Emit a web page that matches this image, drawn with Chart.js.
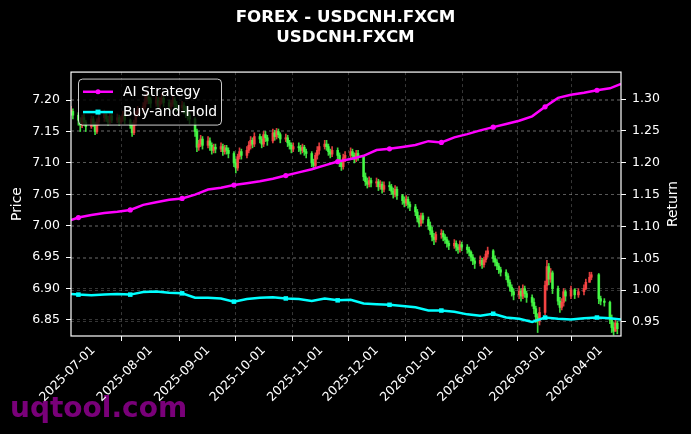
<!DOCTYPE html>
<html>
<head>
<meta charset="utf-8">
<title>FOREX - USDCNH.FXCM</title>
<script src="https://cdn.jsdelivr.net/npm/chart.js@4.4.1/dist/chart.umd.min.js"></script>
<style>
  html, body { margin: 0; padding: 0; background: #000; }
  #wrap { width: 691px; height: 434px; }
</style>
</head>
<body>
<div id="wrap"><canvas id="chart" width="691" height="434"></canvas></div>
<script>
// day 0 of the x axis, axis runs to endDay
const startDate = '2025-06-19';
const endDay = 297;

const tickLabels = ['2025-07-01', '2025-08-01', '2025-09-01', '2025-10-01', '2025-11-01',
  '2025-12-01', '2026-01-01', '2026-02-01', '2026-03-01', '2026-04-01'];

// daily USDCNH candles, one value per weekday (null = no bar that day)
const closes = [
  7.182, 7.176,
  7.168, 7.160, 7.172, 7.165, 7.158,
  7.170, 7.162, 7.150, 7.165, 7.172,
  7.178, 7.170, 7.165, 7.175, 7.168,
  7.172, 7.165, 7.170, 7.176, 7.168,
  7.160, 7.148, 7.165, 7.178, 7.185,
  7.190, 7.198, 7.205, 7.200, 7.195,
  7.200, 7.192, 7.198, 7.203, 7.196,
  7.190, 7.195, 7.200, 7.193, 7.188,
  7.192, 7.185, 7.180, 7.176, 7.170,
  7.150, 7.125, 7.130, 7.138, 7.128,
  7.135, 7.128, 7.120, 7.125, 7.122,
  7.126, 7.118, 7.124, 7.120, 7.115,
  7.100, 7.092, 7.110, 7.118, 7.112,
  7.120, 7.128, 7.136, 7.130, 7.142,
  7.138, 7.130, 7.145, 7.140, 7.135,
  7.148, 7.142, 7.150, 7.145, 7.138,
  7.140, 7.132, 7.128, 7.122, 7.126,
  7.124, 7.120, 7.125, 7.118, 7.115,
  7.100, 7.096, 7.112, 7.120, 7.126,
  7.130, 7.126, 7.118, 7.114, 7.120,
  7.112, 7.100, 7.094, 7.108, 7.112,
  7.118, 7.112, 7.106, 7.115, 7.110,
  7.078, 7.070, 7.066, 7.072, 7.068,
  7.070, 7.062, 7.066, 7.058, 7.064,
  7.062, 7.055, 7.050, 7.058, 7.048,
  7.040, 7.036, 7.042, 7.034, 7.030,
  7.022, 7.012, 7.004, 7.016, 7.010,
  7.000, 6.992, 6.982, 6.978, 6.986,
  6.988, 6.982, 6.978, 6.972, 6.968,
  6.972, 6.966, 6.962, 6.970, 6.966,
  6.962, 6.958, 6.950, 6.944, 6.940,
  6.945, 6.938, 6.946, 6.955, 6.960,
  6.948, 6.942, 6.936, 6.930, 6.926,
  6.920, 6.910, 6.902, 6.895, 6.890,
  6.896, 6.888, 6.900, 6.892, 6.886,
  6.878, 6.868, 6.855, 6.848, 6.862,
  6.905, 6.935, 6.915, 6.925, 6.900,
  6.880, 6.870, 6.878, 6.895, 6.888,
  6.898, null, 6.890, null, 6.895,
  6.900, 6.910, null, 6.918, 6.922,
  null, 6.884, 6.880, null, 6.878,
  6.850, 6.838, 6.832, 6.845, 6.836
];
const highs = [
  7.190, 7.186,
  7.180, 7.172, 7.176, 7.178, 7.168,
  7.175, 7.174, 7.165, 7.170, 7.178,
  7.184, 7.182, 7.174, 7.180, 7.180,
  7.178, 7.176, 7.174, 7.182, 7.180,
  7.170, 7.164, 7.168, 7.182, 7.190,
  7.196, 7.206, 7.212, 7.210, 7.204,
  7.206, 7.204, 7.204, 7.210, 7.206,
  7.200, 7.200, 7.206, 7.204, 7.198,
  7.198, 7.196, 7.190, 7.184, 7.180,
  7.172, 7.154, 7.136, 7.144, 7.142,
  7.142, 7.140, 7.132, 7.130, 7.130,
  7.132, 7.130, 7.128, 7.128, 7.124,
  7.118, 7.106, 7.114, 7.124, 7.122,
  7.126, 7.134, 7.142, 7.140, 7.148,
  7.146, 7.142, 7.150, 7.150, 7.144,
  7.154, 7.152, 7.155, 7.154, 7.148,
  7.146, 7.144, 7.136, 7.132, 7.132,
  7.132, 7.128, 7.130, 7.128, 7.122,
  7.118, 7.106, 7.116, 7.126, 7.132,
  7.136, 7.136, 7.130, 7.122, 7.126,
  7.124, 7.116, 7.104, 7.114, 7.118,
  7.124, 7.122, 7.116, 7.120, 7.120,
  7.112, 7.084, 7.076, 7.078, 7.076,
  7.076, 7.074, 7.072, 7.070, 7.070,
  7.070, 7.066, 7.060, 7.064, 7.062,
  7.050, 7.046, 7.048, 7.046, 7.038,
  7.034, 7.026, 7.016, 7.020, 7.020,
  7.014, 7.006, 6.998, 6.988, 6.990,
  6.994, 6.992, 6.986, 6.982, 6.976,
  6.978, 6.976, 6.970, 6.976, 6.974,
  6.970, 6.966, 6.960, 6.954, 6.948,
  6.952, 6.948, 6.950, 6.960, 6.966,
  6.962, 6.952, 6.946, 6.940, 6.934,
  6.930, 6.924, 6.914, 6.906, 6.900,
  6.904, 6.900, 6.906, 6.904, 6.896,
  6.890, 6.884, 6.872, 6.860, 6.870,
  6.912, 6.945, 6.940, 6.932, 6.928,
  6.904, 6.886, 6.884, 6.900, 6.898,
  6.904, null, 6.900, null, 6.900,
  6.906, 6.915, null, 6.926, 6.926,
  null, 6.924, 6.888, null, 6.884,
  6.880, 6.858, 6.846, 6.852, 6.848
];
const lows = [
  7.176, 7.170,
  7.160, 7.150, 7.156, 7.160, 7.150,
  7.155, 7.158, 7.145, 7.147, 7.160,
  7.166, 7.166, 7.160, 7.162, 7.164,
  7.164, 7.160, 7.162, 7.166, 7.162,
  7.155, 7.142, 7.145, 7.160, 7.174,
  7.180, 7.186, 7.194, 7.194, 7.188,
  7.190, 7.186, 7.188, 7.194, 7.190,
  7.184, 7.186, 7.190, 7.186, 7.182,
  7.184, 7.178, 7.172, 7.168, 7.162,
  7.142, 7.118, 7.120, 7.126, 7.122,
  7.124, 7.120, 7.114, 7.116, 7.116,
  7.118, 7.112, 7.114, 7.114, 7.108,
  7.094, 7.084, 7.088, 7.106, 7.106,
  7.108, 7.116, 7.122, 7.124, 7.126,
  7.132, 7.124, 7.126, 7.134, 7.128,
  7.132, 7.136, 7.138, 7.140, 7.132,
  7.134, 7.126, 7.122, 7.116, 7.118,
  7.118, 7.114, 7.116, 7.112, 7.108,
  7.094, 7.090, 7.092, 7.106, 7.114,
  7.122, 7.120, 7.112, 7.108, 7.110,
  7.106, 7.094, 7.088, 7.090, 7.102,
  7.108, 7.106, 7.100, 7.102, 7.104,
  7.072, 7.064, 7.060, 7.062, 7.062,
  7.062, 7.056, 7.058, 7.052, 7.054,
  7.056, 7.050, 7.044, 7.046, 7.042,
  7.034, 7.030, 7.032, 7.028, 7.024,
  7.016, 7.006, 6.998, 7.000, 7.004,
  6.994, 6.986, 6.976, 6.970, 6.974,
  6.980, 6.976, 6.972, 6.966, 6.962,
  6.964, 6.960, 6.956, 6.958, 6.960,
  6.956, 6.952, 6.944, 6.938, 6.932,
  6.936, 6.932, 6.934, 6.942, 6.950,
  6.942, 6.936, 6.930, 6.924, 6.920,
  6.914, 6.904, 6.896, 6.888, 6.882,
  6.884, 6.880, 6.884, 6.886, 6.878,
  6.872, 6.860, 6.846, 6.830, 6.842,
  6.858, 6.898, 6.906, 6.910, 6.892,
  6.874, 6.862, 6.866, 6.872, 6.880,
  6.884, null, 6.884, null, 6.886,
  6.890, 6.898, null, 6.910, 6.914,
  null, 6.876, 6.874, null, 6.872,
  6.844, 6.830, 6.826, 6.834, 6.828
];

// equity curves, sampled weekly (day offsets from startDate)
const lineDays = [0, 4, 11, 18, 25, 32, 39, 46, 53, 60, 67, 74, 81, 88, 95, 102, 109, 116,
  123, 130, 137, 144, 151, 158, 165, 172, 179, 186, 193, 200, 207, 214, 221, 228, 235,
  242, 249, 256, 263, 270, 277, 284, 291, 297];
const aiStrategy = [1.110, 1.114, 1.118, 1.121, 1.123, 1.126, 1.134, 1.138, 1.142, 1.144,
  1.150, 1.158, 1.161, 1.165, 1.168, 1.171, 1.175, 1.180, 1.185, 1.190, 1.196, 1.202,
  1.206, 1.211, 1.220, 1.222, 1.225, 1.228, 1.234, 1.232, 1.240, 1.245, 1.251, 1.256,
  1.261, 1.266, 1.273, 1.288, 1.302, 1.307, 1.310, 1.314, 1.317, 1.324];
const buyAndHold = [0.994, 0.993, 0.992, 0.993, 0.994, 0.993, 0.997, 0.998, 0.996, 0.995,
  0.988, 0.988, 0.987, 0.982, 0.986, 0.988, 0.989, 0.987, 0.986, 0.983, 0.987, 0.984,
  0.985, 0.979, 0.978, 0.977, 0.975, 0.973, 0.968, 0.968, 0.966, 0.962, 0.960, 0.963,
  0.957, 0.955, 0.950, 0.957, 0.955, 0.954, 0.956, 0.957, 0.956, 0.954];

const DAY = 86400000;
const t0 = Date.parse(startDate);
const tickDays = tickLabels.map(s => (Date.parse(s) - t0) / DAY);

// place candles on weekdays, open = previous close
const candles = [];
let day = 0, prev = null;
for (let i = 0; i < closes.length; i++) {
  while ([0, 6].includes(new Date(t0 + day * DAY).getUTCDay())) day++;
  if (closes[i] !== null) {
    const o = prev === null ? closes[i] : prev;
    const c = closes[i];
    candles.push({ x: day, o, c, h: Math.max(highs[i], o, c), l: Math.min(lows[i], o, c) });
    prev = c;
  }
  day++;
}
// red = up, green = down
const up = 'rgba(255,70,70,0.85)';
const down = 'rgba(70,255,70,0.85)';
const candleColors = candles.map(k => (k.c >= k.o ? up : down));

const FONT = 'DejaVu Sans';
const gridColor = 'rgba(150,150,150,0.45)';

const chromePlugin = {
  id: 'chrome',
  beforeDraw(chart) {
    const ctx = chart.ctx;
    ctx.save();
    ctx.fillStyle = '#000';
    ctx.fillRect(0, 0, chart.width, chart.height);
    ctx.font = `bold 28px "${FONT}"`;
    ctx.fillStyle = 'rgba(128,0,128,0.95)';
    ctx.textBaseline = 'alphabetic';
    ctx.fillText('uqtool.com', 10, 417);
    ctx.restore();
  },
  afterDraw(chart) {
    const { ctx, chartArea: a } = chart;
    ctx.save();
    ctx.strokeStyle = '#fff';
    ctx.lineWidth = 1.2;
    ctx.strokeRect(a.left, a.top, a.right - a.left, a.bottom - a.top);

    // right axis title, reading bottom to top
    ctx.fillStyle = '#fff';
    ctx.font = `13.9px "${FONT}"`;
    ctx.textAlign = 'center';
    ctx.textBaseline = 'middle';
    ctx.translate(673, (a.top + a.bottom) / 2);
    ctx.rotate(-Math.PI / 2);
    ctx.fillText('Return', 0, 0);
    ctx.setTransform(1, 0, 0, 1, 0, 0);

    // legend box
    const lx = a.left + 7.5, ly = a.top + 7;
    ctx.beginPath();
    ctx.roundRect(lx, ly, 143, 46, 4);
    ctx.fillStyle = 'rgba(0,0,0,0.8)';
    ctx.fill();
    ctx.strokeStyle = 'rgba(255,255,255,0.8)';
    ctx.lineWidth = 1;
    ctx.stroke();
    const items = chart.data.datasets.filter(d => d.type === 'line');
    items.forEach((d, i) => {
      const y = ly + 12.7 + i * 20.3;
      ctx.strokeStyle = d.borderColor;
      ctx.lineWidth = 2.5;
      ctx.beginPath();
      ctx.moveTo(lx + 4.5, y);
      ctx.lineTo(lx + 34.5, y);
      ctx.stroke();
      ctx.fillStyle = d.borderColor;
      if (d.pointStyle === 'rect') {
        ctx.fillRect(lx + 19.5 - 2.5, y - 2.5, 5, 5);
      } else {
        ctx.beginPath();
        ctx.arc(lx + 19.5, y, 2.5, 0, Math.PI * 2);
        ctx.fill();
      }
      ctx.fillStyle = '#fff';
      ctx.font = `13.9px "${FONT}"`;
      ctx.textAlign = 'left';
      ctx.textBaseline = 'middle';
      ctx.fillText(d.label, lx + 44.5, y + 0.5);
    });
    ctx.restore();
  }
};

const markerRadius = r => c => (c.dataIndex % 4 === 1 ? r : 0);

new Chart(document.getElementById('chart'), {
  type: 'bar',
  data: {
    datasets: [
      {
        type: 'line',
        label: 'AI Strategy',
        data: lineDays.map((x, i) => ({ x, y: aiStrategy[i] })),
        yAxisID: 'y1',
        borderColor: '#ff00ff',
        backgroundColor: '#ff00ff',
        borderWidth: 2.5,
        pointStyle: 'circle',
        pointRadius: markerRadius(2.6),
        pointBorderWidth: 0,
        tension: 0,
        order: 0
      },
      {
        type: 'line',
        label: 'Buy-and-Hold',
        data: lineDays.map((x, i) => ({ x, y: buyAndHold[i] })),
        yAxisID: 'y1',
        borderColor: '#00ffff',
        backgroundColor: '#00ffff',
        borderWidth: 2.5,
        pointStyle: 'rect',
        pointRadius: markerRadius(3.2),
        pointBorderWidth: 0,
        tension: 0,
        order: 1
      },
      {
        type: 'bar',
        label: 'wick',
        data: candles.map(k => ({ x: k.x, y: [k.l, k.h] })),
        yAxisID: 'y',
        backgroundColor: candleColors,
        barThickness: 1,
        grouped: false,
        order: 3
      },
      {
        type: 'bar',
        label: 'body',
        data: candles.map(k => ({ x: k.x, y: [k.o, k.c] })),
        yAxisID: 'y',
        backgroundColor: candleColors,
        barThickness: 2,
        minBarLength: 1,
        grouped: false,
        order: 2
      }
    ]
  },
  options: {
    responsive: false,
    animation: false,
    events: [],
    layout: { padding: 0 },
    plugins: {
      legend: { display: false },
      tooltip: { enabled: false },
      title: {
        display: true,
        text: ['FOREX - USDCNH.FXCM', 'USDCNH.FXCM'],
        color: '#fff',
        font: { family: FONT, size: 16.7, weight: 'bold', lineHeight: 1.2 },
        padding: { top: 8, bottom: 24 }
      }
    },
    scales: {
      x: {
        type: 'linear',
        min: 0,
        max: endDay,
        offset: false,
        afterBuildTicks: s => { s.ticks = tickDays.map(v => ({ value: v })); },
        afterFit: s => { s.height = 98; },
        ticks: {
          color: '#fff',
          font: { family: FONT, size: 12.5 },
          autoSkip: false,
          maxRotation: 45,
          minRotation: 45,
          padding: 2,
          callback: v => tickLabels[tickDays.indexOf(v)] || ''
        },
        grid: { color: gridColor, lineWidth: 0.8, tickColor: '#fff', tickLength: 5, tickWidth: 1, tickBorderDash: [] },
        border: { display: false, dash: [3, 3] }
      },
      y: {
        position: 'left',
        min: 6.8245,
        max: 7.2446,
        afterFit: s => { s.width = 71; },
        ticks: {
          stepSize: 0.05,
          includeBounds: false,
          color: '#fff',
          font: { family: FONT, size: 12.5 },
          padding: 6,
          callback: v => v.toFixed(2)
        },
        title: { display: true, text: 'Price', color: '#fff', font: { family: FONT, size: 13.9 }, padding: { top: 9, bottom: 0 } },
        grid: { color: gridColor, lineWidth: 0.8, tickColor: '#fff', tickLength: 5, tickWidth: 1, tickBorderDash: [] },
        border: { display: false, dash: [3, 3] }
      },
      y1: {
        position: 'right',
        min: 0.928,
        max: 1.3425,
        afterFit: s => { s.width = 70; },
        ticks: {
          stepSize: 0.05,
          includeBounds: false,
          color: '#fff',
          font: { family: FONT, size: 12.5 },
          padding: 6,
          callback: v => v.toFixed(2)
        },
        grid: { color: gridColor, lineWidth: 0.8, tickColor: '#fff', tickLength: 5, tickWidth: 1, tickBorderDash: [] },
        border: { display: false, dash: [3, 3] }
      }
    }
  },
  plugins: [chromePlugin]
});
</script>
</body>
</html>
